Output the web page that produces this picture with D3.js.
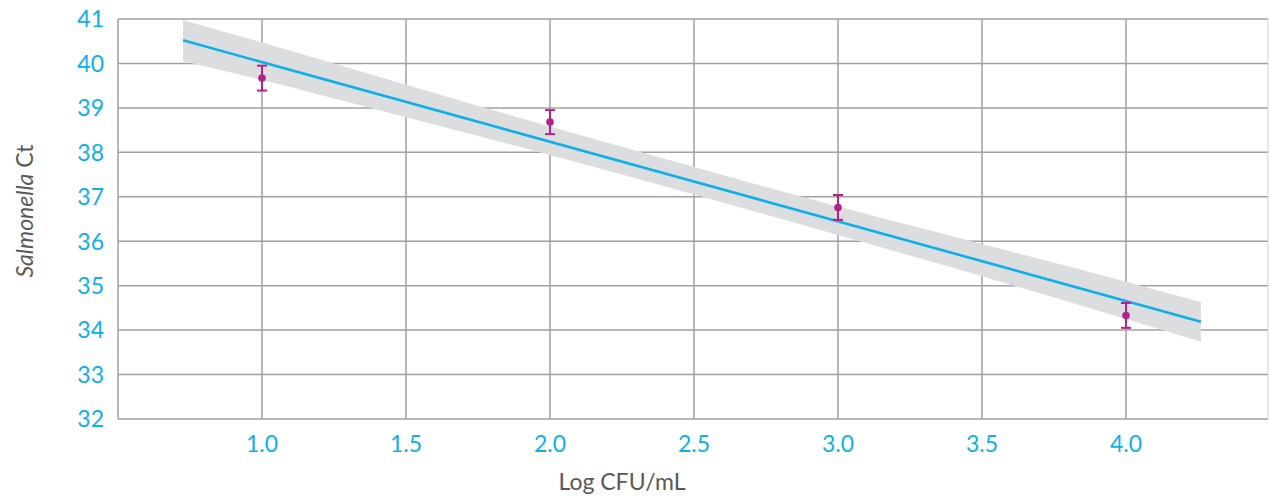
<!DOCTYPE html>
<html><head><meta charset="utf-8">
<script src="https://cdn.jsdelivr.net/npm/d3@7/dist/d3.min.js"></script>
<style>body{margin:0;background:#fff}svg{display:block}</style>
</head><body>
<svg id="c" width="1269" height="497"></svg>
<script>
// Data
const logCFU = [1.0, 2.0, 3.0, 4.0];
const meanCt = [39.67, 38.68, 36.76, 34.33];
const errCt = [0.28, 0.27, 0.28, 0.28];
const fitX = [0.726, 4.26];
const fitY = [40.52, 34.19];
const bandX = [0.726, 1.0, 1.5, 2.0, 2.5, 3.0, 3.5, 4.0, 4.26];
const bandUpper = [40.98, 40.47, 39.52, 38.58, 37.67, 36.78, 35.94, 35.09, 34.63];
const bandLower = [40.05, 39.63, 38.79, 37.94, 37.05, 36.14, 35.21, 34.25, 33.74];
const xTicks = [1.0, 1.5, 2.0, 2.5, 3.0, 3.5, 4.0];
const yTicks = [32, 33, 34, 35, 36, 37, 38, 39, 40, 41];

const svg = d3.select("#c");
const x = d3.scaleLinear().domain([0.5, 4.5]).range([118, 1270]);
const y = d3.scaleLinear().domain([32, 41]).range([419, 19]);
const gridCol = "#a0a0a0", blue = "#0faeed", mag = "#b5218b";
const font = "Lato, 'Open Sans', sans-serif";
const fs = 23;

// gridlines
svg.append("g").selectAll("line").data(yTicks).join("line")
  .attr("x1", 118).attr("x2", 1268).attr("y1", d => y(d)).attr("y2", d => y(d))
  .attr("stroke", gridCol).attr("stroke-width", 1.5);
svg.append("g").selectAll("line").data(xTicks).join("line")
  .attr("x1", d => x(d)).attr("x2", d => x(d)).attr("y1", 19).attr("y2", 419)
  .attr("stroke", gridCol).attr("stroke-width", 1.5);
svg.append("line").attr("x1", 118).attr("x2", 118).attr("y1", 19).attr("y2", 419)
  .attr("stroke", gridCol).attr("stroke-width", 1.5);
svg.append("line").attr("x1", 1268).attr("x2", 1268).attr("y1", 19).attr("y2", 419)
  .attr("stroke", "#d0d0d0").attr("stroke-width", 1);

// band
const bandData = bandX.map((d, i) => ({x: d, lo: bandLower[i], hi: bandUpper[i]}));
svg.append("path").datum(bandData)
  .attr("d", d3.area().x(d => x(d.x)).y0(d => y(d.lo)).y1(d => y(d.hi)).curve(d3.curveMonotoneX))
  .attr("fill", "#dcdddf");

// fit line
svg.append("path").datum(fitX.map((d, i) => [d, fitY[i]]))
  .attr("d", d3.line().x(d => x(d[0])).y(d => y(d[1])))
  .attr("stroke", blue).attr("stroke-width", 2.6).attr("fill", "none");

// error bars
const pts = logCFU.map((d, i) => ({x: d, m: meanCt[i], e: errCt[i]}));
const eb = svg.append("g").attr("stroke", mag).attr("stroke-width", 2);
eb.selectAll(".v").data(pts).join("line")
  .attr("x1", d => x(d.x)).attr("x2", d => x(d.x)).attr("y1", d => y(d.m - d.e)).attr("y2", d => y(d.m + d.e));
eb.selectAll(".t").data(pts).join("line")
  .attr("x1", d => x(d.x) - 5).attr("x2", d => x(d.x) + 5).attr("y1", d => y(d.m + d.e)).attr("y2", d => y(d.m + d.e));
eb.selectAll(".b").data(pts).join("line")
  .attr("x1", d => x(d.x) - 5).attr("x2", d => x(d.x) + 5).attr("y1", d => y(d.m - d.e)).attr("y2", d => y(d.m - d.e));
svg.append("g").selectAll("circle").data(pts).join("circle")
  .attr("cx", d => x(d.x)).attr("cy", d => y(d.m)).attr("r", 3.8).attr("fill", mag);

// tick labels
svg.append("g").selectAll("text").data(yTicks).join("text")
  .attr("x", 104).attr("y", d => y(d)).attr("dy", "0.36em").attr("text-anchor", "end")
  .attr("fill", blue).attr("font-family", font).attr("font-size", fs).text(d => d);
svg.append("g").selectAll("text").data(xTicks).join("text")
  .attr("x", d => x(d)).attr("y", 452).attr("text-anchor", "middle")
  .attr("fill", blue).attr("font-family", font).attr("font-size", fs).text(d => d3.format(".1f")(d));

// axis titles
svg.append("text").attr("x", 622).attr("y", 490).attr("text-anchor", "middle")
  .attr("fill", "#595959").attr("font-family", font).attr("font-size", fs).text("Log CFU/mL");
const yt = svg.append("text").attr("transform", "translate(33,211) rotate(-90)").attr("text-anchor", "middle")
  .attr("fill", "#595959").attr("font-family", font).attr("font-size", fs);
yt.append("tspan").attr("font-style", "italic").text("Salmonella");
yt.append("tspan").text(" Ct");
</script>
</body></html>
